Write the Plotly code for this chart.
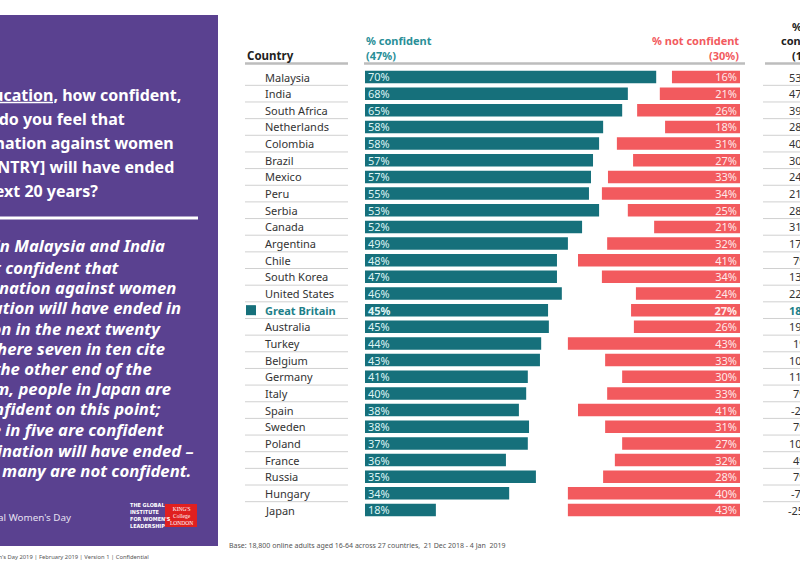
import plotly.graph_objects as go

W, H = 800, 565

countries = ["Malaysia", "India", "South Africa", "Netherlands", "Colombia", "Brazil", "Mexico",
             "Peru", "Serbia", "Canada", "Argentina", "Chile", "South Korea", "United States",
             "Great Britain", "Australia", "Turkey", "Belgium", "Germany", "Italy", "Spain",
             "Sweden", "Poland", "France", "Russia", "Hungary", "Japan"]
conf_labels = [70, 68, 65, 58, 58, 57, 57, 55, 53, 52, 49, 48, 47, 46, 45, 45, 44, 43, 41, 40,
               38, 38, 37, 36, 35, 34, 18]
# bar lengths as drawn in the picture (they differ slightly from the printed labels)
conf_bar = [71.9, 64.9, 63.5, 58.8, 57.8, 56.3, 55.8, 55.3, 57.8, 53.6, 50.1, 47.4, 47.4, 48.6,
            45.2, 45.4, 43.5, 43.2, 40.2, 39.8, 38.0, 40.5, 40.2, 34.8, 42.2, 35.6, 17.5]
notconf_labels = [16, 21, 26, 18, 31, 27, 33, 34, 25, 21, 32, 41, 34, 24, 27, 26, 43, 33, 30, 33,
                  41, 31, 27, 32, 28, 40, 43]
notconf_bar = [16.8, 19.8, 25.4, 18.5, 30.4, 26.4, 32.6, 34.1, 27.7, 21.2, 32.8, 40.0, 34.1, 25.7,
               26.9, 26.2, 42.5, 33.3, 29.1, 32.8, 40.0, 33.3, 29.1, 30.9, 33.8, 42.5, 42.5]
net_conf = [53, 47, 39, 28, 40, 30, 24, 21, 28, 31, 17, 7, 13, 22, 18, 19, 1, 10, 11, 7, -2, 7,
            10, 4, 7, -7, -25]
highlight = "Great Britain"

TEAL = "#16707b"
RED = "#f25a5e"
PURPLE = "#5a4190"
FONT = "Noto Sans"


def px(x):
    return x / W


def py(y):
    return 1 - y / H


n = len(countries)
row_top, row_bot = 77, 510
step = (row_bot - row_top) / (n - 1)
y_dom = [py(row_bot + step / 2), py(row_top - step / 2)]
bar_x0, bar_x1 = 365, 740
unit = 4.05
xr = (bar_x1 - bar_x0) / unit

conf_text = [f"<b>{v}%</b>" if c == highlight else f"{v}%" for c, v in zip(countries, conf_labels)]
nc_text = [f"<b>{v}%</b>" if c == highlight else f"{v}%" for c, v in zip(countries, notconf_labels)]

fig = go.Figure()
fig.add_trace(go.Bar(
    y=countries, x=conf_bar, orientation="h", xaxis="x", yaxis="y",
    marker=dict(color=TEAL, line=dict(width=0)),
    text=conf_text, textposition="inside", insidetextanchor="start", textangle=0,
    constraintext="none",
    textfont=dict(family=FONT, size=11, color="#dff5f5"), hoverinfo="skip"))
fig.add_trace(go.Bar(
    y=countries, x=notconf_bar, orientation="h", xaxis="x2", yaxis="y",
    marker=dict(color=RED, line=dict(width=0)),
    text=nc_text, textposition="inside", insidetextanchor="start", textangle=0,
    constraintext="none",
    textfont=dict(family=FONT, size=11, color="#ffe9e9"), hoverinfo="skip"))

shapes = []
ann = []

# left purple panel
shapes.append(dict(type="rect", xref="paper", yref="paper", x0=px(-2), x1=px(218), y0=py(546), y1=py(15),
                   fillcolor=PURPLE, line=dict(width=0), layer="below"))
# white divider line in panel
shapes.append(dict(type="line", xref="paper", yref="paper", x0=px(-2), x1=px(198), y0=py(218), y1=py(218),
                   line=dict(color="white", width=3)))
# underline of "education"
shapes.append(dict(type="line", xref="paper", yref="paper", x0=px(-2), x1=px(53), y0=py(102.5), y1=py(102.5),
                   line=dict(color="white", width=1.5)))

q_lines = [("Thinking about education, how confident,", 183, 95),
           ("if at all, do you feel that", 127, 119),
           ("discrimination against women", 176, 143),
           ("in [COUNTRY] will have ended", 176, 167),
           ("in the next 20 years?", 100, 191)]
for t, xr_px, yc in q_lines:
    ann.append(dict(text=f"<b>{t}</b>", x=px(xr_px), y=py(yc), xref="paper", yref="paper",
                    xanchor="right", yanchor="middle", showarrow=False,
                    font=dict(family=FONT, size=16, color="white")))

i_lines = [("People in Malaysia and India", 167, 246),
           ("are most confident that", 122, 267),
           ("discrimination against women", 178, 287),
           ("in education will have ended in", 183, 307),
           ("their nation in the next twenty", 163, 328),
           ("years, where seven in ten cite", 167, 348),
           ("this. At the other end of the", 154, 368),
           ("spectrum, people in Japan are", 173, 388),
           ("least confident on this point;", 163, 408),
           ("only one in five are confident", 167, 429),
           ("discrimination will have ended –", 195, 450),
           ("and twice as many are not confident.", 193, 470)]
for t, xr_px, yc in i_lines:
    ann.append(dict(text=f"<b><i>{t}</i></b>", x=px(xr_px), y=py(yc), xref="paper", yref="paper",
                    xanchor="right", yanchor="middle", showarrow=False,
                    font=dict(family=FONT, size=16.7, color="white")))

ann.append(dict(text="International Women's Day", x=px(73), y=py(517), xref="paper", yref="paper",
                xanchor="right", yanchor="middle", showarrow=False,
                font=dict(family=FONT, size=9.8, color="#e6e0f0")))
ann.append(dict(text="<b>THE GLOBAL<br>INSTITUTE<br>FOR WOMEN'S<br>LEADERSHIP</b>", x=px(128), y=py(515),
                xref="paper", yref="paper", xanchor="left", yanchor="middle", showarrow=False, align="left",
                font=dict(family="Liberation Sans Narrow, DejaVu Sans Condensed", size=5.5, color="white")))
shapes.append(dict(type="rect", xref="paper", yref="paper", x0=px(165), x1=px(197), y0=py(527), y1=py(504),
                   fillcolor="#e0201f", line=dict(width=0)))
ann.append(dict(text="KING'S<br>College<br>LONDON", x=px(181), y=py(515.5), xref="paper", yref="paper",
                xanchor="center", yanchor="middle", showarrow=False, align="center",
                font=dict(family="Liberation Serif", size=5.5, color="white")))
ann.append(dict(text="International Women's Day 2019 | February 2019 | Version 1 | Confidential",
                x=px(151), y=py(557), xref="paper", yref="paper", xanchor="right", yanchor="middle",
                showarrow=False, font=dict(family=FONT, size=5.8, color="#555555")))

# headers
ann.append(dict(text="<b>Country</b>", x=px(245), y=py(55), xref="paper", yref="paper", xanchor="left",
                yanchor="middle", showarrow=False, font=dict(family=FONT, size=11.5, color="#222222")))
ann.append(dict(text="<b>% confident</b>", x=px(364), y=py(40), xref="paper", yref="paper", xanchor="left",
                yanchor="middle", showarrow=False, font=dict(family=FONT, size=11, color="#2a8f98")))
ann.append(dict(text="<b>(47%)</b>", x=px(364), y=py(55), xref="paper", yref="paper", xanchor="left",
                yanchor="middle", showarrow=False, font=dict(family=FONT, size=11, color="#2a8f98")))
ann.append(dict(text="<b>% not confident</b>", x=px(741), y=py(40), xref="paper", yref="paper",
                xanchor="right", yanchor="middle", showarrow=False, font=dict(family=FONT, size=11, color=RED)))
ann.append(dict(text="<b>(30%)</b>", x=px(741), y=py(55), xref="paper", yref="paper", xanchor="right",
                yanchor="middle", showarrow=False, font=dict(family=FONT, size=11, color=RED)))
for t, yc in [("% net", 27), ("confident", 41), ("(17%)", 55)]:
    ann.append(dict(text=f"<b>{t}</b>", x=px(807), y=py(yc), xref="paper", yref="paper", xanchor="center",
                    yanchor="middle", showarrow=False, font=dict(family=FONT, size=11, color="#222222")))

for x0, x1 in [(245, 348), (364, 745), (765, 810)]:
    shapes.append(dict(type="line", xref="paper", yref="paper", x0=px(x0), x1=px(x1), y0=py(63.5), y1=py(63.5),
                       line=dict(color="#bdbdbd", width=2.5)))

# row labels and separators
for i, (c, v) in enumerate(zip(countries, net_conf)):
    hl = c == highlight
    ann.append(dict(text=f"<b>{c}</b>" if hl else c, x=px(263), y=c, xref="paper", yref="y",
                    xanchor="left", yanchor="middle", showarrow=False,
                    font=dict(family=FONT, size=11, color="#1d7f89" if hl else "#333333")))
    ann.append(dict(text=f"<b>{v}%</b>" if hl else f"{v}%", x=px(800), y=c, xref="paper", yref="y",
                    xanchor="center", yanchor="middle", showarrow=False,
                    font=dict(family=FONT, size=11, color="#1d7f89" if hl else "#333333")))
    if i < n - 1:
        for x0, x1 in [(245, 348), (763, 800)]:
            shapes.append(dict(type="line", xref="paper", yref="y", x0=px(x0), x1=px(x1), y0=i + 0.5,
                               y1=i + 0.5, line=dict(color="#d0d0d0", width=1)))
    if hl:
        shapes.append(dict(type="rect", xref="paper", yref="y", x0=px(246), x1=px(256), y0=i - 0.3,
                           y1=i + 0.3, fillcolor=TEAL, line=dict(width=0)))

ann.append(dict(text="Base: 18,800 online adults aged 16-64 across 27 countries,  21 Dec 2018 - 4 Jan  2019",
                x=px(227), y=py(545), xref="paper", yref="paper", xanchor="left", yanchor="middle",
                showarrow=False, font=dict(family=FONT, size=7, color="#555555")))

fig.update_layout(
    width=W, height=H, margin=dict(l=0, r=0, t=0, b=0),
    paper_bgcolor="white", plot_bgcolor="rgba(0,0,0,0)",
    showlegend=False, bargap=0.25,
    xaxis=dict(domain=[px(bar_x0), px(bar_x1)], range=[0, xr], visible=False, fixedrange=True),
    xaxis2=dict(domain=[px(bar_x0), px(bar_x1)], range=[xr, 0], visible=False, overlaying="x",
                fixedrange=True),
    yaxis=dict(domain=y_dom, type="category", categoryorder="array", categoryarray=countries,
               range=[n - 0.5, -0.5], visible=False, fixedrange=True),
    shapes=shapes, annotations=ann,
)
fig.write_html("out.html")
